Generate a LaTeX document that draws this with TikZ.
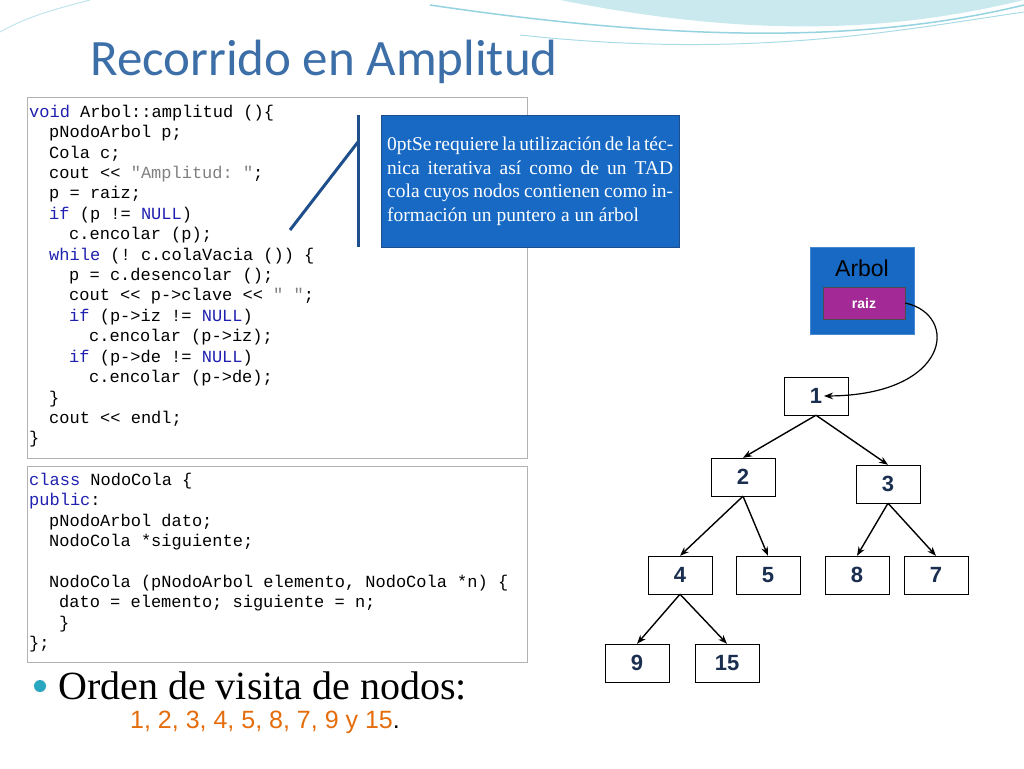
\documentclass[tikz,border=0pt]{standalone}
\usepackage{fontspec}
\setmainfont{Liberation Serif}
\setsansfont{Liberation Sans}
\setmonofont{Liberation Mono}
\newfontfamily\titlefont{Carlito}
\usetikzlibrary{positioning,arrows.meta}
\definecolor{titleblue}{HTML}{3C6EA8}
\definecolor{boxblue}{HTML}{1769C4}
\definecolor{lineblue}{HTML}{1F4E8C}
\definecolor{kwblue}{HTML}{2020B0}
\definecolor{raizpurple}{HTML}{A32A96}
\definecolor{numnavy}{HTML}{1A2E50}
\definecolor{ordenorange}{HTML}{E46C0A}
\definecolor{teal}{HTML}{2AA7C0}
\newcommand{\kw}[1]{\textcolor{kwblue}{#1}}
\newcommand{\str}[1]{\textcolor{gray}{#1}}
\begin{document}
\begin{tikzpicture}[x=1pt,y=-1pt,
  codebox/.style={draw=gray!60,line width=0.8pt},
  codeline/.style={anchor=west,inner sep=0pt,font=\fontsize{17}{18}\ttfamily},
  treenode/.style={draw=black,fill=white,minimum width=64pt,minimum height=38pt,inner sep=0pt,
    font=\fontsize{22}{24}\sffamily\bfseries,text=numnavy},
  edge/.style={-{Stealth[length=9pt]},line width=1.4pt}]
  \useasboundingbox (0,0) rectangle (1024,768);
  % top decoration
  \fill[teal!25] (560,0) .. controls (760,40) and (900,30) .. (1024,0) -- cycle;
  \draw[teal!50,line width=1.5pt] (430,5) .. controls (700,45) and (880,40) .. (1024,5);
  \draw[teal!40,line width=1pt] (520,35) .. controls (750,60) and (900,30) .. (1024,12);
  \draw[teal!30,line width=1pt] (0,32) .. controls (30,15) and (60,8) .. (90,0);

  \node[anchor=west,inner sep=0pt,text=titleblue,font=\fontsize{51}{56}\titlefont] (title) at (90,62) {Recorrido en Amplitud};

  % code boxes
  \draw[codebox] (27,97) rectangle (527,458);
  \draw[codebox] (27,466) rectangle (527,662);
  \foreach \i/\ind/\txt in {
    0/0/{\kw{void} Arbol::amplitud ()\{},
    1/1/{pNodoArbol p;},
    2/1/{Cola c;},
    3/1/{cout << \str{"Amplitud: "};},
    4/1/{p = raiz;},
    5/1/{\kw{if} (p != \kw{NULL})},
    6/2/{c.encolar (p);},
    7/1/{\kw{while} (! c.colaVacia ()) \{},
    8/2/{p = c.desencolar ();},
    9/2/{cout << p->clave << \str{" "};},
    10/2/{\kw{if} (p->iz != \kw{NULL})},
    11/3/{c.encolar (p->iz);},
    12/2/{\kw{if} (p->de != \kw{NULL})},
    13/3/{c.encolar (p->de);},
    14/1/{\}},
    15/1/{cout << endl;},
    16/0/{\}}}
    \node[codeline] (code-\i) at (29+20*\ind,113+20.4*\i) {\txt};
  \foreach \i/\ind/\txt in {
    0/0/{\kw{class} NodoCola \{},
    1/0/{\kw{public}:},
    2/1/{pNodoArbol dato;},
    3/1/{NodoCola *siguiente;},
    5/1/{NodoCola (pNodoArbol elemento, NodoCola *n) \{},
    6/1.5/{dato = elemento; siguiente = n;},
    7/1.5/{\}},
    8/0/{\};}}
    \node[codeline] (cola-\i) at (29+20*\ind,481+20.4*\i) {\txt};

  % callout
  \node[fill=boxblue,draw=lineblue,anchor=north west,minimum width=298pt,minimum height=132pt,
    text width=286pt,align=justify,text=white,font=\fontsize{19.5}{23.5}\selectfont\hyphenpenalty=10000,inner sep=6pt]
    (nota) at (381,115) {Se requiere la utilización de la técnica iterativa así como de un TAD cola cuyos nodos contienen como información un puntero a un árbol};
  \coordinate (barTop) at (358,115);
  \coordinate (barBot) at (358,247);
  \coordinate (diagTop) at (358,142);
  \coordinate (diagBot) at (290,230);
  \draw[lineblue,line width=3pt] (barTop) -- (barBot);
  \draw[lineblue,line width=3pt] (diagTop) -- (diagBot);

  % Arbol
  \node[fill=boxblue,draw=boxblue!80,anchor=north west,minimum width=104pt,minimum height=87pt,inner sep=0pt] (arbol) at (810,247) {};
  \node[font=\fontsize{23}{26}\sffamily,text=black] (arbolLbl) at (862,268) {Arbol};
  \node[fill=raizpurple,draw=black!70,minimum width=82pt,minimum height=32pt,inner sep=0pt,
    text=white,font=\fontsize{14}{16}\sffamily\bfseries] (raiz) at (864,303) {raiz};

  % tree
  \node[treenode] (n1) at (816,396) {1};
  \node[treenode] (n2) at (743,477) {2};
  \node[treenode] (n3) at (888,484) {3};
  \node[treenode] (n4) at (680,575) {4};
  \node[treenode] (n5) at (768,575) {5};
  \node[treenode] (n8) at (857,575) {8};
  \node[treenode] (n7) at (936,575) {7};
  \node[treenode] (n9) at (637,663) {9};
  \node[treenode] (n15) at (727,663) {15};
  \draw[edge] (n1.south) -- (n2.north);
  \draw[edge] (n1.south) -- (n3.north);
  \draw[edge] (n2.south) -- (n4.north);
  \draw[edge] (n2.south) -- (n5.north);
  \draw[edge] (n3.south) -- (n8.north);
  \draw[edge] (n3.south) -- (n7.north);
  \draw[edge] (n4.south) -- (n9.north);
  \draw[edge] (n4.south) -- (n15.north);
  \draw[-{Stealth[length=9pt]},line width=1.2pt] (raiz.east) .. controls (960,315) and (950,395) .. ([xshift=8pt]n1.center);

  % orden
  \fill[teal] (40,686) circle (6pt);
  \node[anchor=west,inner sep=0pt,font=\fontsize{40}{44}\selectfont] (orden) at (58,686) {Orden de visita de nodos:};
  \node[anchor=west,inner sep=0pt,font=\fontsize{25}{29}\sffamily,text=ordenorange] (lista) at (130,722) {1, 2, 3, 4, 5, 8, 7, 9 y 15\textcolor{black}{.}};
\end{tikzpicture}
\end{document}
